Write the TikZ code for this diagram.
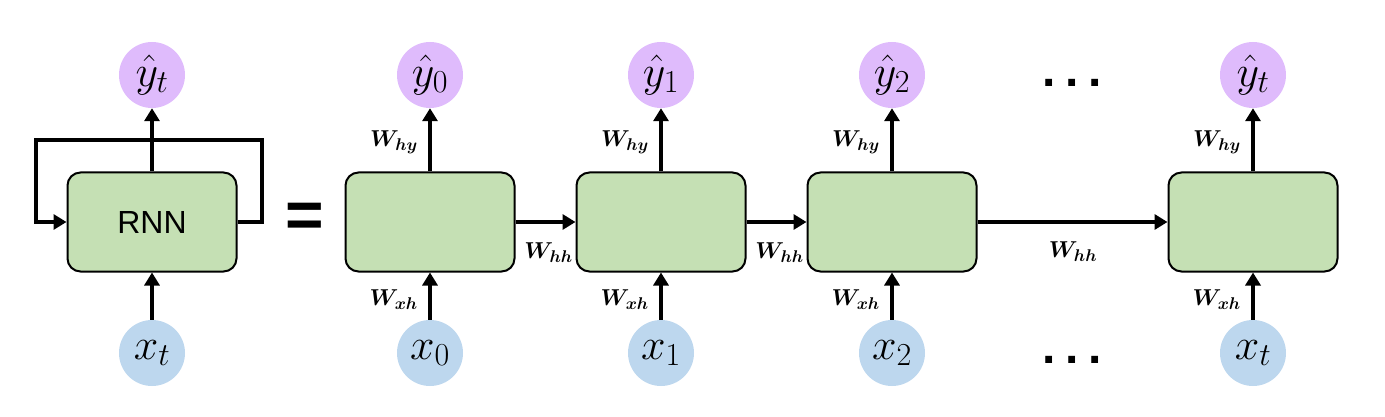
\RequirePackage{fix-cm}
\documentclass[tikz,border=0pt]{standalone}
\usepackage{amsmath}
\usepackage{bm}
\usepackage{fontspec}
\newfontfamily\arialfont{Liberation Sans}
\usetikzlibrary{arrows.meta}
\DeclareMathSizes{23}{23}{17}{13}
\DeclareMathSizes{44}{44}{32}{24}
\definecolor{colorcell}{HTML}{C5E0B4}
\definecolor{colorin}{HTML}{BDD7EE}
\definecolor{colorout}{HTML}{DFBBFC}
\tikzset{cell/.style={
        draw, line width=2pt, fill=colorcell, rounded corners=13pt,
        minimum width=169pt, minimum height=99pt
    }
}
\tikzset{xnode/.style={
        circle, fill=colorin, minimum size=66pt, inner sep=0pt,
        font=\fontsize{44}{44}\selectfont
    },
    ynode/.style={xnode, fill=colorout},
    conn/.style={line width=4.5pt, -{Triangle[length=13pt,width=15pt]}},
    weight/.style={inner sep=0pt, font=\fontsize{23}{23}\selectfont},
    dots/.style={inner sep=0pt, font=\arialfont\bfseries\fontsize{48}{48}\selectfont}
}

\begin{document}
\begin{tikzpicture}[x=1pt, y=-1pt]
        \useasboundingbox (0,0) rectangle (1385,417);

        \node [cell, font=\arialfont\fontsize{32}{32}\selectfont] (rnn) at (152,222) {RNN};
        \node [ynode] (yt) at (152,75) {$\hat{y}_t$};
        \node [xnode] (xt) at (152,353) {$x_t$};
        \draw [conn] (xt) -- (rnn);
        \draw [conn] (rnn) -- (yt);
        \coordinate (loopR) at (262,140);
        \coordinate (loopL) at (36,140);
        \draw [conn] (rnn.east) -| (loopR) -- (loopL) |- (rnn.west);

        \node [font=\arialfont\bfseries\fontsize{66}{66}\selectfont] (eq) at (305,220) {=};

        \foreach \i/\x/\s in {0/430/0,1/661/1,2/892/2,3/1253/t} {
            \node [cell] (h\i) at (\x,222) {};
            \node [ynode] (y\i) at (\x,75) {$\hat{y}_{\s}$};
            \node [xnode] (x\i) at (\x,353) {$x_{\s}$};
            \draw [conn] (x\i) -- (h\i);
            \draw [conn] (h\i) -- (y\i);
            \node [weight, anchor=east] (why\i) at (\x-12,142) {$\bm{W_{hy}}$};
            \node [weight, anchor=east] (wxh\i) at (\x-12,300) {$\bm{W_{xh}}$};
        }

        \foreach \i/\j in {0/1,1/2,2/3} {
            \draw [conn] (h\i) -- (h\j);
        }
        \node [weight, anchor=east] (whh0) at (573,253) {$\bm{W_{hh}}$};
        \node [weight, anchor=east] (whh1) at (804,253) {$\bm{W_{hh}}$};
        \node [weight] (whh2) at (1073,252) {$\bm{W_{hh}}$};

        \node [dots] (ydots) at (1072,83) {.\kern10pt.\kern10pt.};
        \node [dots] (xdots) at (1072,360) {.\kern10pt.\kern10pt.};
    \end{tikzpicture}
\end{document}
